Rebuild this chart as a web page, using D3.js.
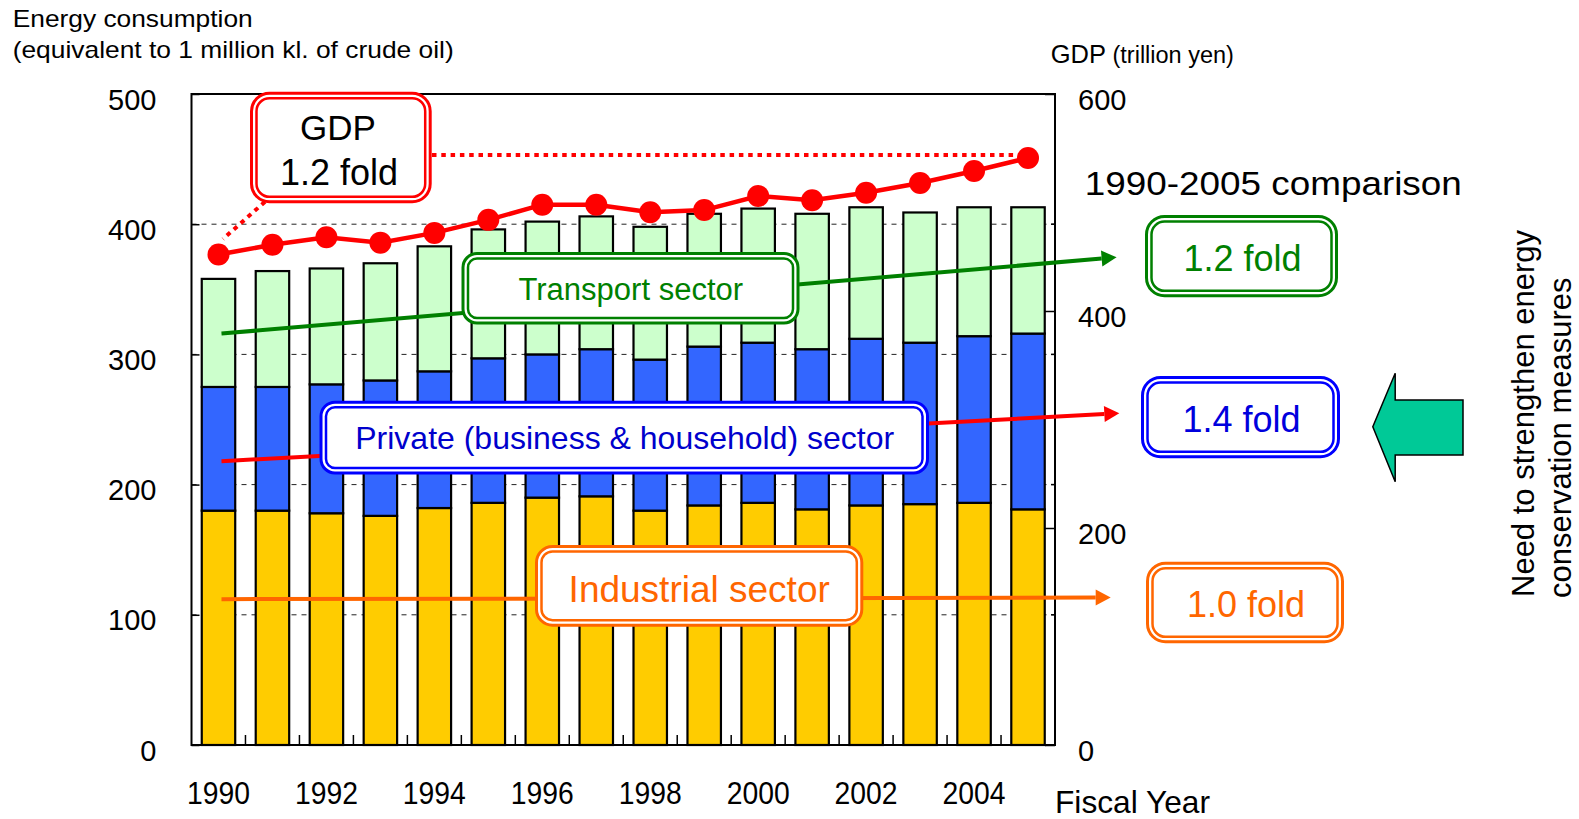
<!DOCTYPE html>
<html><head><meta charset="utf-8">
<script src="https://cdn.jsdelivr.net/npm/d3@7"></script>
<style>
body{margin:0;background:#fff}
svg{display:block}
text{font-family:"Liberation Sans",Arial,Helvetica,sans-serif}
</style>
</head><body>
<svg id="c" width="1579" height="819"></svg>
<script>
// ---------------- data ----------------
const years = [1990,1991,1992,1993,1994,1995,1996,1997,1998,1999,2000,2001,2002,2003,2004,2005];
const industrial = [180,180,178,176,182,186,190,191,180,184,186,181,184,185,186,181];
const privateSec = [95,95,99,104,105,111,110,113,116,122,123,123,128,124,128,135];
const transport  = [83,89,89,90,96,99,102,102,102,102,103,104,101,100,99,97];
const gdp = [452,461,468,463,472,484,498,498,491,493,506,502,509,518,529,541];
const xTickLabels = [1990,1992,1994,1996,1998,2000,2002,2004];
const leftTicks = [0,100,200,300,400,500];
const rightTicks = [0,200,400,600];
const gridValues = [100,200,300,400];
const sectorKeys = ["industrial","private","transport"];
const sectorColors = {industrial:"#FFCC00", private:"#3366FF", transport:"#CCFFCC"};

// ---------------- layout ----------------
const svg = d3.select("#c");
const X0 = 191.5, X1 = 1055, Y0 = 745, Y1 = 94;
const x = d3.scaleBand().domain(years).range([X0, X1]).paddingInner(0.38).paddingOuter(0.19);
const yL = d3.scaleLinear().domain([0, 500]).range([Y0, Y1]);
const yR = d3.scaleLinear().domain([0, 600]).range([Y0, Y1]);
const bw = x.bandwidth();
const cx = y => x(y) + bw / 2;

// grid lines (behind bars)
svg.append("g").selectAll("line").data(gridValues).join("line")
  .attr("x1", X0).attr("x2", X1).attr("y1", d => yL(d)).attr("y2", d => yL(d))
  .attr("stroke", "#222").attr("stroke-width", 1).attr("stroke-dasharray", "5,5");

// stacked bars
const rows = years.map((yr, i) => ({year: yr, industrial: industrial[i], private: privateSec[i], transport: transport[i]}));
const stacked = d3.stack().keys(sectorKeys)(rows);
svg.append("g").selectAll("g").data(stacked).join("g")
  .attr("fill", d => sectorColors[d.key])
  .selectAll("rect").data(d => d).join("rect")
  .attr("x", d => x(d.data.year)).attr("width", bw)
  .attr("y", d => yL(d[1])).attr("height", d => yL(d[0]) - yL(d[1]))
  .attr("stroke", "#000").attr("stroke-width", 2.2);

// frame
svg.append("rect").attr("x", X0).attr("y", Y1).attr("width", X1 - X0).attr("height", Y0 - Y1)
  .attr("fill", "none").attr("stroke", "#000").attr("stroke-width", 2);

// left axis
const axL = svg.append("g").attr("transform", `translate(${X0},0)`)
  .call(d3.axisLeft(yL).tickValues(leftTicks).tickSize(-8).tickPadding(35));
axL.select(".domain").remove();
axL.selectAll("line").attr("stroke", "#000").attr("stroke-width", 1.5);
axL.selectAll("text").attr("font-size", 29).attr("dy", "0.52em").attr("fill", "#000");

// right axis
const axR = svg.append("g").attr("transform", `translate(${X1},0)`)
  .call(d3.axisRight(yR).tickValues(rightTicks).tickSize(-10).tickPadding(23));
axR.select(".domain").remove();
axR.selectAll("line").attr("stroke", "#000").attr("stroke-width", 1.5);
axR.selectAll("text").attr("font-size", 29).attr("dy", "0.52em").attr("fill", "#000");

// short ticks on the right for the left scale
svg.append("g").selectAll("line").data(gridValues).join("line")
  .attr("x1", X1 - 4).attr("x2", X1).attr("y1", d => yL(d)).attr("y2", d => yL(d))
  .attr("stroke", "#000").attr("stroke-width", 1.5);

// x ticks at band boundaries
const gap = x.step() - bw;
svg.append("g").selectAll("line").data(years.slice(1)).join("line")
  .attr("x1", d => x(d) - gap / 2).attr("x2", d => x(d) - gap / 2)
  .attr("y1", Y0).attr("y2", Y0 - 10)
  .attr("stroke", "#000").attr("stroke-width", 1.5);

// x labels
svg.append("g").selectAll("text").data(xTickLabels).join("text")
  .attr("x", d => cx(d)).attr("y", 804).attr("text-anchor", "middle")
  .attr("font-size", 31).attr("textLength", 63).attr("lengthAdjust", "spacingAndGlyphs")
  .text(d => d);

// ---------------- trend arrows ----------------
const trends = [
  {color: "#008000", v: 316, end: [1116.6, 257.3]},
  {color: "#FF0000", v: 218, end: [1119.3, 413.3]},
  {color: "#FF6600", v: 112, end: [1110.7, 597.5]}
];
const tg = svg.append("g");
trends.forEach(t => {
  const sx = cx(years[0]) + 3, sy = yL(t.v);
  const [ex, ey] = t.end;
  const ang = Math.atan2(ey - sy, ex - sx);
  const L = 15, W = 8;
  const bx = ex - L * Math.cos(ang), by = ey - L * Math.sin(ang);
  tg.append("line").attr("x1", sx).attr("y1", sy).attr("x2", bx).attr("y2", by)
    .attr("stroke", t.color).attr("stroke-width", 4);
  const px = -Math.sin(ang), py = Math.cos(ang);
  tg.append("polygon")
    .attr("points", [[ex, ey], [bx + px * W, by + py * W], [bx - px * W, by - py * W]].map(p => p.join(",")).join(" "))
    .attr("fill", t.color);
});

// GDP line and markers
const gdpPts = years.map((yr, i) => ({year: yr, v: gdp[i]}));
svg.append("path").datum(gdpPts)
  .attr("d", d3.line().x(d => cx(d.year)).y(d => yR(d.v)))
  .attr("fill", "none").attr("stroke", "#FF0000").attr("stroke-width", 4.5);
svg.append("g").selectAll("circle").data(gdpPts).join("circle")
  .attr("cx", d => cx(d.year)).attr("cy", d => yR(d.v)).attr("r", 11).attr("fill", "#FF0000");

// GDP dotted guides
const lastY = yR(gdp[gdp.length - 1]) - 3;
svg.append("line").attr("x1", 432).attr("y1", lastY).attr("x2", cx(years[years.length - 1])).attr("y2", lastY)
  .attr("stroke", "#FF0000").attr("stroke-width", 4).attr("stroke-dasharray", "4.5,4.8");
svg.append("line").attr("x1", 265).attr("y1", 201.7).attr("x2", 223).attr("y2", 239)
  .attr("stroke", "#FF0000").attr("stroke-width", 4).attr("stroke-dasharray", "4.5,4.8");

// ---------------- boxes ----------------
function doubleBox(x0, y0, x1, y1, r, color) {
  const g = svg.append("g");
  g.append("rect").attr("x", x0 + 1.5).attr("y", y0 + 1.5).attr("width", x1 - x0 - 3).attr("height", y1 - y0 - 3)
    .attr("rx", r).attr("fill", "#fff").attr("stroke", color).attr("stroke-width", 3);
  g.append("rect").attr("x", x0 + 6.5).attr("y", y0 + 6.5).attr("width", x1 - x0 - 13).attr("height", y1 - y0 - 13)
    .attr("rx", r - 5).attr("fill", "none").attr("stroke", color).attr("stroke-width", 2.5);
  return g;
}
function label(xp, yp, txt, size, color, anchor) {
  return svg.append("text").attr("x", xp).attr("y", yp).attr("font-size", size)
    .attr("fill", color).attr("text-anchor", anchor || "middle").text(txt);
}

doubleBox(250, 91.7, 431.7, 203.3, 18, "#FF0000");
label(338, 140, "GDP", 35, "#000");
label(339, 185, "1.2 fold", 36, "#000");

doubleBox(461.5, 252, 799.5, 324.5, 14, "#008000");
label(630.8, 300, "Transport sector", 31, "#008000");

doubleBox(319.5, 400.7, 929, 474.5, 14, "#0000FF");
label(624.7, 449.3, "Private (business & household) sector", 32, "#0000CC");

doubleBox(535, 545, 863.3, 626.7, 16, "#FF6600");
label(699.2, 601.7, "Industrial sector", 37, "#FF6600");

doubleBox(1145, 215, 1338, 297.3, 18, "#008000");
label(1242.6, 270.7, "1.2 fold", 36, "#008000");
doubleBox(1141, 376, 1340, 458.3, 18, "#0000FF");
label(1241.6, 431.7, "1.4 fold", 36, "#0000DD");
doubleBox(1146, 561.7, 1344, 643.3, 18, "#FF6600");
label(1246, 616.7, "1.0 fold", 36, "#FF6600");

// ---------------- titles & notes ----------------
label(12.7, 27.3, "Energy consumption", 24, "#000", "start")
  .attr("textLength", 240).attr("lengthAdjust", "spacingAndGlyphs");
label(12.7, 58.3, "(equivalent to 1 million kl. of crude oil)", 24, "#000", "start")
  .attr("textLength", 441).attr("lengthAdjust", "spacingAndGlyphs");

const gt = label(1050.7, 63.3, "GDP", 25.5, "#000", "start");
gt.append("tspan").attr("font-size", 23.5).text(" (trillion yen)");

label(1055, 813, "Fiscal Year", 30.5, "#000", "start")
  .attr("textLength", 155).attr("lengthAdjust", "spacingAndGlyphs");
label(1084.8, 195, "1990-2005 comparison", 33.5, "#000", "start")
  .attr("textLength", 377).attr("lengthAdjust", "spacingAndGlyphs");

// teal block arrow
svg.append("polygon")
  .attr("points", [[1372.8, 426.7], [1395.2, 373.3], [1395.2, 400], [1463, 400], [1463, 455], [1395.2, 455], [1395.2, 481.7]].map(p => p.join(",")).join(" "))
  .attr("fill", "#00C997").attr("stroke", "#000").attr("stroke-width", 1.5);

svg.append("text").attr("transform", "translate(1534,597) rotate(-90)")
  .attr("font-size", 31).attr("fill", "#000").text("Need to strengthen energy");
svg.append("text").attr("transform", "translate(1571,598) rotate(-90)")
  .attr("font-size", 31).attr("fill", "#000").text("conservation measures");
</script>
</body></html>
